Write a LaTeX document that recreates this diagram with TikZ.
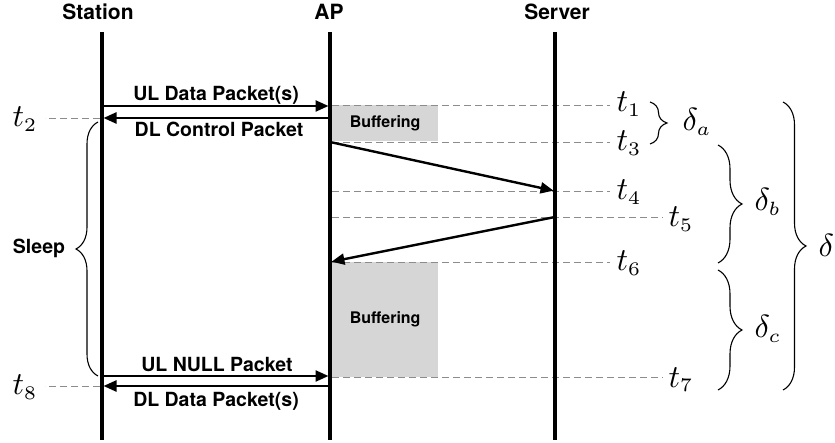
\documentclass[tikz,border=0pt]{standalone}
\usepackage{fontspec}
\newfontfamily\hv{TeX Gyre Heros}
\usetikzlibrary{arrows.meta,decorations.pathreplacing}
\newcommand{\sbs}[1]{{\mbox{\fontsize{6}{7}\selectfont$#1$}}}
\begin{document}
\begin{tikzpicture}[x=1pt,y=-1pt,
  life/.style={line width=3.5pt},
  msg/.style={line width=2.4pt,-{Triangle[length=13pt,width=11pt]},shorten >=1.5pt,shorten <=1.5pt},
  gline/.style={draw=black!45,line width=0.9pt,dash pattern=on 7pt off 4pt},
  buf/.style={fill=black!16,draw=none},
  head/.style={font=\hv\bfseries\fontsize{21}{24}\selectfont,anchor=base,inner sep=0pt},
  lbl/.style={font=\hv\bfseries\fontsize{19.5}{22}\selectfont,anchor=base,inner sep=0pt},
  bufl/.style={font=\hv\bfseries\fontsize{16}{18}\selectfont,inner sep=0pt},
  tl/.style={scale=3.2,anchor=base west,inner sep=0pt},
  br/.style={decorate,decoration={brace,amplitude=#1},line width=1.1pt},
]
\useasboundingbox (0,0) rectangle (835,443);

% buffering boxes
\node[buf,minimum width=106pt,minimum height=36pt,anchor=north west] (b1) at (332,105) {};
\node[bufl] (b1t) at (b1.center) {Buffering};
\node[buf,minimum width=106pt,minimum height=115pt,anchor=north west] (b2) at (332,262) {};
\node[bufl] (b2t) at (b2.center) {Buffering};

% coordinates on lifelines
\coordinate (stop) at (102,32);  \coordinate (sbot) at (102,440);
\coordinate (atop) at (330,32);  \coordinate (abot) at (330,440);
\coordinate (vtop) at (555,32);  \coordinate (vbot) at (555,440);

% dashed time lines
\coordinate (a1) at (332,105); \coordinate (e1) at (610,105);
\coordinate (a3) at (332,142); \coordinate (e3) at (610,142);
\coordinate (a4) at (332,191); \coordinate (e4) at (610,191);
\coordinate (a5) at (332,217); \coordinate (e5) at (663,217);
\coordinate (a6) at (332,262); \coordinate (e6) at (610,262);
\coordinate (a7) at (332,377); \coordinate (e7) at (663,377);
\coordinate (s2) at (100,118); \coordinate (e2) at (45,118);
\coordinate (s8) at (100,386); \coordinate (e8) at (45,386);
\foreach \p/\q in {a1/e1,a3/e3,a4/e4,a5/e5,a6/e6,a7/e7,s2/e2,s8/e8}
  \draw[gline] (\p) -- (\q);

% lifelines
\draw[life] (stop) -- (sbot);
\draw[life] (atop) -- (abot);
\draw[life] (vtop) -- (vbot);

% headers
\node[head] (hs) at (98,20) {Station};
\node[head] (ha) at (329,20) {AP};
\node[head] (hv) at (557,20) {Server};

% messages
\coordinate (m1s) at (102,106); \coordinate (m1a) at (330,106);
\coordinate (m2a) at (330,118); \coordinate (m2s) at (102,118);
\coordinate (m3a) at (330,142); \coordinate (m3v) at (555,191);
\coordinate (m4v) at (555,217); \coordinate (m4a) at (330,262);
\coordinate (m5s) at (102,376); \coordinate (m5a) at (330,376);
\coordinate (m6a) at (330,386); \coordinate (m6s) at (102,386);
\draw[msg] (m1s) -- (m1a);
\draw[msg] (m2a) -- (m2s);
\draw[msg] (m3a) -- (m3v);
\draw[msg] (m4v) -- (m4a);
\draw[msg] (m5s) -- (m5a);
\draw[msg] (m6a) -- (m6s);

\node[lbl] (l1) at (216,101) {UL Data Packet(s)};
\node[lbl] (l2) at (219,137) {DL Control Packet};
\node[lbl] (l3) at (217,372) {UL NULL Packet};
\node[lbl] (l4) at (216,406) {DL Data Packet(s)};

% time labels
\node[tl] (t1) at (616,112) {$t_\sbs{1}$};
\node[tl] (t3) at (616,151) {$t_\sbs{3}$};
\node[tl] (t4) at (616,200) {$t_\sbs{4}$};
\node[tl] (t5) at (668,227) {$t_\sbs{5}$};
\node[tl] (t6) at (616,271) {$t_\sbs{6}$};
\node[tl] (t7) at (668,387) {$t_\sbs{7}$};
\node[tl] (t2) at (12,127) {$t_\sbs{2}$};
\node[tl] (t8) at (12,395) {$t_\sbs{8}$};

% braces
\coordinate (sb1) at (98,376); \coordinate (sb2) at (98,122);
\draw[br=22pt] (sb1) -- (sb2);
\node[lbl] (sleep) at (39,254) {Sleep};

\coordinate (da1) at (650,102); \coordinate (da2) at (650,144);
\draw[br=17pt] (da1) -- (da2);
\coordinate (db1) at (718,145); \coordinate (db2) at (718,263);
\draw[br=24pt] (db1) -- (db2);
\coordinate (dc1) at (718,270); \coordinate (dc2) at (718,390);
\draw[br=24pt] (dc1) -- (dc2);
\coordinate (dd1) at (783,102); \coordinate (dd2) at (783,390);
\draw[br=23pt] (dd1) -- (dd2);

\node[tl] (da) at (682,131) {$\delta_\sbs{a}$};
\node[tl] (db) at (754,211) {$\delta_\sbs{b}$};
\node[tl] (dc) at (754,338) {$\delta_\sbs{c}$};
\node[tl] (dd) at (818,257) {$\delta$};
\end{tikzpicture}
\end{document}
